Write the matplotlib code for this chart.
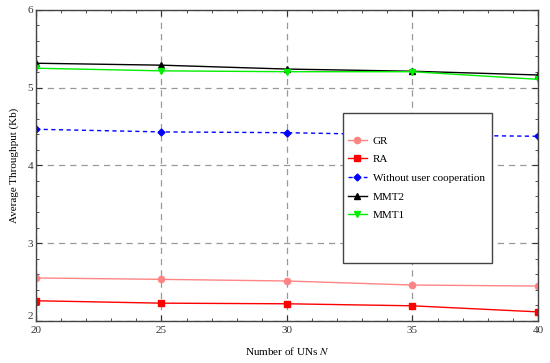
import matplotlib
matplotlib.use('Agg')
import matplotlib.pyplot as plt
from matplotlib.patches import Rectangle
from matplotlib.ticker import MultipleLocator

plt.rcParams['font.family'] = ['Liberation Serif', 'DejaVu Serif']
plt.rcParams['mathtext.fontset'] = 'stix'

# data
n_uns = [20, 25, 30, 35, 40]
gr = [2.552, 2.534, 2.513, 2.461, 2.448]
ra = [2.259, 2.228, 2.220, 2.194, 2.116]
without_coop = [4.464, 4.430, 4.420, 4.390, 4.374]
mmt2 = [5.313, 5.288, 5.238, 5.210, 5.162]
mmt1 = [5.249, 5.215, 5.204, 5.204, 5.106]
y_ticks = [2, 3, 4, 5, 6]

fig = plt.figure(figsize=(5.5, 3.63), dpi=100)
ax = fig.add_axes([0.0655, 0.116, 0.9125, 0.857])

ax.plot(n_uns, gr, color='#ff8585', marker='o', ms=4.5, lw=1, label='GR')
ax.plot(n_uns, ra, color='#ff0000', marker='s', ms=4, lw=1, label='RA')
ax.plot(n_uns, without_coop, color='#0000ff', marker='D', ms=3.5, lw=1,
        ls=(0, (3, 2.5)), label='Without user cooperation')
ax.plot(n_uns, mmt2, color='black', marker='^', ms=4.5, lw=1, label='MMT2')
ax.plot(n_uns, mmt1, color='#00ee00', marker='v', ms=4.5, lw=1, label='MMT1')

ax.set_xlim(20, 40)
ax.set_ylim(2, 6)
ax.set_xticks(n_uns)
ax.xaxis.set_minor_locator(MultipleLocator(1))
ax.set_yticks(y_ticks)
ax.yaxis.set_minor_locator(MultipleLocator(0.2))
ax.tick_params(which='both', direction='in', top=True, right=True,
               labelsize=8, colors='#333333')
ax.tick_params(axis='x', pad=4)
ax.tick_params(axis='y', pad=2)
ax.tick_params(which='major', length=4)
ax.tick_params(which='minor', length=2.5)
ax.get_yticklabels()[0].set_verticalalignment('bottom')
ax.grid(True, which='major', ls=(0, (5, 4)), color='#999999', lw=0.9)
for s in ax.spines.values():
    s.set_color('#444444')
    s.set_linewidth(1)

ax.set_xlabel('Number of UNs $N$', fontsize=8, labelpad=7)
ax.set_ylabel('Average Throughput (Kb)', fontsize=8, labelpad=6)

box = Rectangle((0.611, 0.186), 0.297, 0.483, transform=ax.transAxes,
                facecolor='white', edgecolor='#444444', lw=1, zorder=4)
ax.add_patch(box)
leg = ax.legend(loc='upper left', bbox_to_anchor=(0.6215, 0.595), frameon=False,
                fontsize=8, handlelength=1.7, labelspacing=0.8,
                handletextpad=0.55, borderaxespad=0, borderpad=0)
leg.set_zorder(5)

fig.savefig('out.png', dpi=100)
